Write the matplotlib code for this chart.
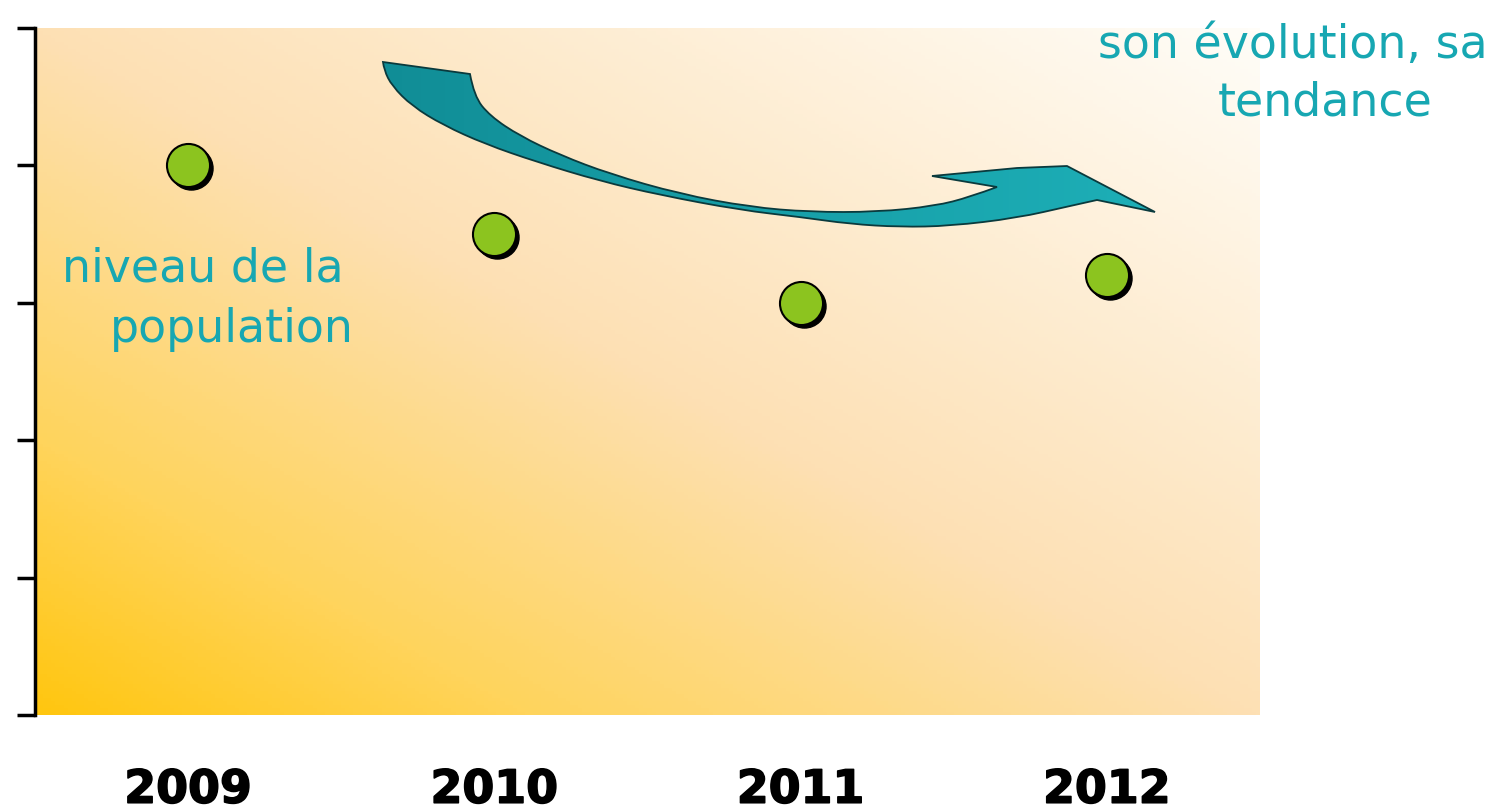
import matplotlib
matplotlib.use("Agg")
import matplotlib.pyplot as plt
import matplotlib.patheffects as pe
import numpy as np
from matplotlib.colors import LinearSegmentedColormap
from matplotlib.path import Path
from matplotlib.patches import PathPatch
from matplotlib.transforms import offset_copy

# data
years = ["2009", "2010", "2011", "2012"]
niveau = [4.0, 3.5, 3.0, 3.2]
y_ticks = [0, 1, 2, 3, 4, 5]

teal = "#17a7b2"
green = "#8cc41f"

W, H = 1508, 811
fig = plt.figure(figsize=(W / 100, H / 100), dpi=100)

# axes box in pixels: x 35..1260, y 28..715
ax = fig.add_axes([35 / W, 1 - 715 / H, 1225 / W, 687 / H])

# background gradient (yellow bottom-left -> white top-right)
bg_cmap = LinearSegmentedColormap.from_list(
    "bg", [(0.0, "#ffc60f"), (0.2, "#ffd45c"), (0.5, "#fde0b4"), (1.0, "#fffdf8")])
u, v = np.meshgrid(np.linspace(0, 1, 300), np.linspace(0, 1, 200))
d = np.clip((u + v) / 2, 0, 1)
ax.imshow(d, cmap=bg_cmap, extent=[0, 1, 0, 1], transform=ax.transAxes,
          origin="lower", aspect="auto", zorder=0, vmin=0, vmax=1)

x = np.arange(len(years))

# points with a small shadow
shadow = offset_copy(ax.transData, fig, x=3, y=-3, units="dots")
ax.plot(x, niveau, "o", ms=31, color="black", transform=shadow, zorder=3)
ax.plot(x, niveau, "o", ms=31, color=green, mec="black", mew=1.5, zorder=4)

ax.set_xlim(-0.5, 3.5)
ax.set_ylim(0, 5)
ax.set_yticks(y_ticks)
ax.set_yticklabels([])
ax.set_xticks(x)
ax.set_xticklabels(years, fontsize=33, fontweight="bold", color="black")
for lab in ax.get_xticklabels():
    lab.set_path_effects([pe.withStroke(linewidth=1.1, foreground="black")])
ax.tick_params(axis="x", length=0, pad=38)
ax.tick_params(axis="y", length=13, width=2.5, color="black", direction="out")

for s in ["top", "right", "bottom"]:
    ax.spines[s].set_visible(False)
ax.spines["left"].set_linewidth(2.5)
ax.spines["left"].set_color("black")


# curved block arrow, outline traced in picture pixels -> axes fractions
def a(px, py):
    return ((px - 35) / 1225, (715 - py) / 687)


def smooth(pts):
    # quadratic curve through the midpoints of a point chain
    verts, codes = [], []
    for i in range(1, len(pts) - 1):
        mid = ((pts[i][0] + pts[i + 1][0]) / 2, (pts[i][1] + pts[i + 1][1]) / 2)
        if i == len(pts) - 2:
            mid = pts[-1]
        verts += [pts[i], mid]
        codes += [Path.CURVE3, Path.CURVE3]
    return verts, codes


upper = [(470, 74), (474, 96), (490, 116), (520, 136), (560, 155),
         (610, 174), (680, 194), (750, 207), (810, 212), (877, 212), (935, 206),
         (970, 197), (997, 187)]
lower = [(1097, 200), (1070, 206), (1017, 218), (950, 226), (900, 227),
         (850, 224), (800, 217), (740, 210), (660, 195), (600, 181), (537, 162),
         (485, 144), (443, 125), (412, 106), (392, 86), (384, 70), (383, 62)]

verts = [a(383, 62), a(470, 74)]
codes = [Path.MOVETO, Path.LINETO]
vs, cs = smooth([a(*q) for q in upper])
verts += vs
codes += cs
for q in [(932, 176), (1017, 168), (1067, 166), (1155, 212), (1097, 200)]:
    verts.append(a(*q))
    codes.append(Path.LINETO)
vs, cs = smooth([a(*q) for q in lower])
verts += vs
codes += cs
verts.append(a(383, 62))
codes.append(Path.CLOSEPOLY)

arrow = PathPatch(Path(verts, codes), transform=ax.transAxes, facecolor="none",
                  edgecolor="#0a3a3d", lw=1.3, zorder=6)
ax.add_patch(arrow)
arr_cmap = LinearSegmentedColormap.from_list("arr", ["#0b7c85", "#159aa3", "#1fb3bb"])
grad = np.tile(np.linspace(0, 1, 200), (20, 1))
im = ax.imshow(grad, cmap=arr_cmap, extent=[0, 1, 0, 1], transform=ax.transAxes,
               aspect="auto", zorder=5, origin="lower")
im.set_clip_path(arrow)


# annotations
def p(px, py):
    return (px / W, 1 - py / H)


txt = dict(transform=fig.transFigure, color=teal, fontsize=33, va="baseline", ha="left")
fig.text(*p(62, 281), "niveau de la", **txt)
fig.text(*p(110, 342), "population", **txt)
fig.text(*p(1098, 58), "son évolution, sa", **txt)
fig.text(*p(1218, 115), "tendance", **txt)

fig.savefig("out.png", dpi=100)
